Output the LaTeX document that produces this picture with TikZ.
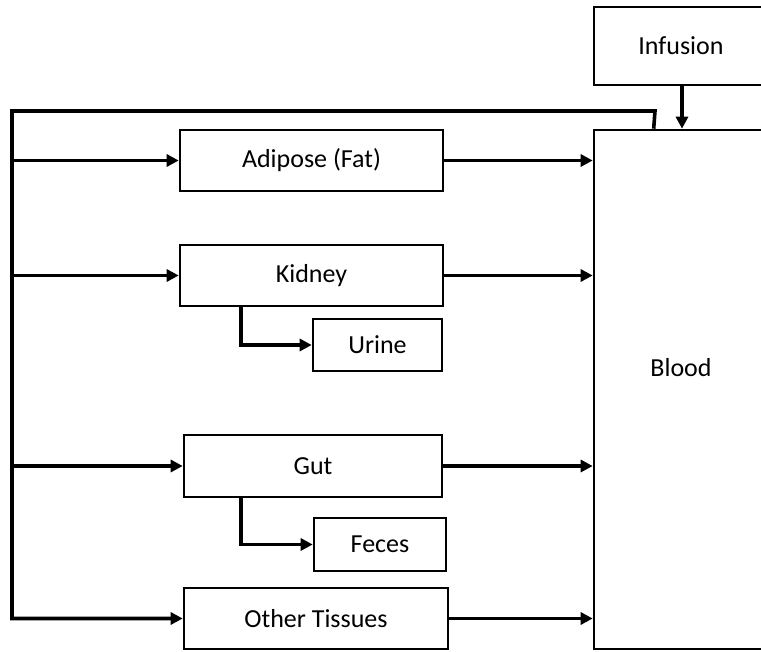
\documentclass[tikz,border=0pt]{standalone}
\usepackage{fontspec}
\setmainfont{Carlito}
\usetikzlibrary{arrows.meta}

\begin{document}
\begin{tikzpicture}[
        x=1pt, y=-1pt,
        rect/.style={rectangle, draw, line width=2.6pt, inner sep=0pt, font=\fontsize{26}{30}\selectfont},
        flow/.style={line width=3.6pt, ->},
        >={Triangle[length=12pt, width=12pt]}
    ]
    \useasboundingbox (0,0) rectangle (761,652);

    % Blood and its infusion
    \node[rect, minimum width=174pt, minimum height=78pt] (infusion) at (681,46) {Infusion};
    \node[rect, minimum width=174pt, minimum height=519pt,
          label={[font=\fontsize{26}{30}\selectfont, yshift=21.5pt]center:Blood}] (blood) at (681,389.5) {};

    % Tissues
    \node[rect, minimum width=263pt, minimum height=61pt] (adipose) at (311.5,160.5) {Adipose (Fat)};
    \node[rect, minimum width=263pt, minimum height=61pt] (kidney) at (311.5,275.5) {Kidney};
    \node[rect, minimum width=129pt, minimum height=52pt] (urine) at (377.5,345) {Urine};
    \node[rect, minimum width=258pt, minimum height=62pt] (gut) at (313,466) {Gut};
    \node[rect, minimum width=132pt, minimum height=53pt] (feces) at (380,544.5) {Feces};
    \node[rect, minimum width=264pt, minimum height=61pt] (other) at (316,618.5) {Other Tissues};

    % Return loop from blood
    \coordinate (back) at (655,111);
    \coordinate (left) at (12,111);
    \draw[flow] ([xshift=61pt]blood.north west) -- (back) -- (left) |- (other.west);
    \draw[flow] (left |- adipose.west) -- (adipose.west);
    \draw[flow] (left |- kidney.west) -- (kidney.west);
    \draw[flow] (left |- gut.west) -- (gut.west);

    % Into blood
    \draw[flow] (infusion.south -| 682,0) -- (blood.north -| 682,0);
    \draw[flow] (adipose.east) -- (blood.west |- adipose.east);
    \draw[flow] (kidney.east) -- (blood.west |- kidney.east);
    \draw[flow] (gut.east) -- (blood.west |- gut.east);
    \draw[flow] (other.east) -- (blood.west |- other.east);

    % Excretion
    \draw[flow] (kidney.south -| 241,0) |- (urine.west);
    \draw[flow] (gut.south -| 241,0) |- (feces.west);

\end{tikzpicture}
\end{document}
